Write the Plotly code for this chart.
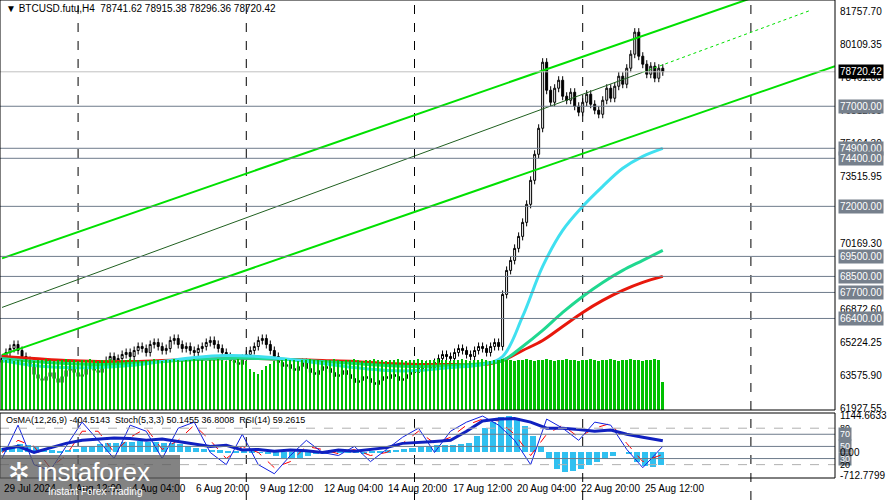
import plotly.graph_objects as go

W, H = 887, 500
FONT = "Liberation Sans"

closes = [64400, 64700, 64900, 65100, 64800, 64500, 64300, 64000, 63600, 63400,
          63300, 63500, 63700, 63400, 63200, 63500, 63800, 64000, 63700, 63500,
          63600, 63900, 64100, 63800, 63700, 64000, 64300, 64500, 64200, 64400,
          64600, 64700, 64500, 64800, 65000, 64900, 64700, 65100, 65200, 65000,
          64800, 64900, 65300, 65400, 65100, 64900, 65000, 64800, 64700, 64900,
          65000, 65200, 65300, 65100, 64900, 64700, 64500, 64300, 64200, 64100,
          64400, 64600, 64800, 65000, 65300, 65400, 65100, 64800, 64500, 64200,
          64000, 64100, 63900, 63800, 64000, 64200, 63900, 63700, 63600, 63800,
          64000, 63900, 63700, 63500, 63600, 63800, 63600, 63400, 63200, 63300,
          63500, 63400, 63200, 63100, 63300, 63500, 63400, 63600, 63500, 63300,
          63400, 63600, 63800, 63700, 63900, 64100, 64000, 63900, 64200, 64400,
          64600, 64500, 64400, 64700, 64900, 64800, 64600, 64500, 64800, 65000,
          64900, 64700, 65000, 65200, 65000, 67600, 68800, 69300, 69900, 70500,
          71200, 72100, 73300, 74600, 75900, 79200, 77800, 77200, 77900, 78300,
          77500, 77300, 77700, 77000, 76700, 77200, 77600, 77100, 76800, 76600,
          77300, 77900, 77400, 78000, 78500, 78100, 78900, 79600, 80700, 79500,
          79100, 78600, 79000, 78400, 78900, 78720]
first_open = 64200
wick = 200

volume = [98, 97, 99, 96, 98, 97, 99, 98, 96, 97, 98, 99, 97, 96, 98, 97, 99, 98, 97, 96,
          98, 97, 99, 98, 96, 97, 98, 99, 97, 96, 98, 97, 99, 98, 97, 96, 98, 97, 99, 98,
          96, 97, 98, 99, 97, 96, 98, 97, 99, 98, 97, 96, 98, 97, 99, 98, 96, 97, 98, 99,
          97, 96, 80, 75, 70, 78, 85, 90, 96, 98, 97, 99, 98, 97, 96, 98, 97, 99, 98, 97,
          96, 98, 97, 99, 98, 96, 97, 98, 99, 97, 96, 98, 97, 99, 98, 97, 96, 98, 97, 99,
          98, 96, 97, 98, 99, 97, 96, 98, 97, 99, 98, 97, 96, 98, 97, 99, 98, 96, 97, 98,
          99, 97, 96, 98, 97, 99, 98, 97, 96, 98, 97, 99, 98, 96, 97, 98, 99, 97, 96, 98,
          97, 99, 98, 97, 96, 98, 97, 99, 98, 96, 97, 98, 99, 97, 96, 98, 97, 99, 98, 97,
          96, 98, 97, 99, 98, 55]

ma_x = [0, 8, 16, 24, 32, 40, 48, 56, 64, 72, 80, 88, 96, 104, 112, 120, 125, 130, 135, 140, 145, 150, 155, 160, 165]
ma_fast = [64300, 64050, 63950, 63950, 64050, 64250, 64450, 64550, 64500, 64350, 64150, 63950, 63800, 63800,
           63950, 64100, 64500, 66500, 69000, 70800, 72000, 73000, 73900, 74500, 74900]
ma_mid = [64400, 64250, 64150, 64100, 64150, 64250, 64350, 64400, 64400, 64350, 64250, 64150, 64050, 64000,
          64050, 64150, 64300, 65000, 65800, 66700, 67500, 68200, 68800, 69300, 69800]
ma_slow = [64500, 64400, 64300, 64250, 64250, 64300, 64350, 64400, 64400, 64350, 64300, 64250, 64150, 64100,
           64100, 64100, 64300, 64800, 65300, 66000, 66700, 67300, 67800, 68200, 68500]

chan_x = [0, 208]
chan_upper = [69400, 83850]
chan_lower = [64580, 79000]
mid_x = [0, 160, 202]
mid_line = [66950, 78700, 81800]

levels = [77000, 74900, 74400, 72000, 69500, 68500, 67700, 66400]
last_price = 78720.42
axis_ticks = [81757.70, 80109.35, 78461.00, 76812.65, 75164.30, 73515.95, 71867.60,
              70169.30, 68521.00, 66872.60, 65224.25, 63575.90, 61927.55]

osma = [150, 200, 250, 220, 180, 120, 60, 40, 80, 120,
        160, 200, 250, 280, 300,
        320, 330, 340, 330, 320, 300, 280, 250, 200, 150,
        100, 80, 60, 50, 40, 30, 20, 10, -40, -120,
        -180, -200, -160, -120, -60,
        -20, 20, 40, 30, -10, -30, 20, 50, 60, 80,
        100, 140, 180, 200, 220, 230, 240, 250,
        300, 500, 750, 950, 1100, 1130, 1050,
        800, 500, 200, -200, -500,
        -600, -580, -500, -400, -300, -200, -100,
        0, -50, -300, -420, -450, -400]
rsi = [45, 50, 40, 48, 55, 60, 62, 64, 63, 60, 62, 58, 55, 50, 52, 44, 45, 42, 44, 43,
       40, 44, 42, 45, 48, 55, 56, 58, 60, 75, 92, 95, 96, 90, 80, 80, 78, 75, 77, 70, 65, 59.26]
stoch_k = [30, 85, 20, 10, 50, 90, 60, 30, 85, 75, 30, 80, 90, 40, 20, 70, 20, 5, 35, 60,
           40, 35, 50, 25, 45, 65, 80, 40, 75, 90, 100, 85, 60, 20, 95, 80, 60, 90, 85, 45, 15, 50.15]
stoch_d = [40, 60, 50, 15, 35, 75, 75, 40, 65, 80, 45, 60, 85, 60, 30, 50, 40, 15, 25, 50,
           45, 38, 45, 35, 40, 55, 75, 55, 65, 85, 95, 92, 70, 35, 70, 85, 65, 80, 88, 55, 25, 36.8]
stoch_levels = [80, 70, 50, 30, 20]

date_pos = [0, 16, 32, 48, 64, 80, 96, 112, 128, 144, 160]
date_text = ["29 Jul 2024", "1 Aug 12:00", "4 Aug 04:00", "6 Aug 20:00", "9 Aug 12:00",
             "12 Aug 04:00", "14 Aug 20:00", "17 Aug 12:00", "20 Aug 04:00", "22 Aug 20:00", "25 Aug 12:00"]
grid_bars = [19, 61, 103, 145, 187]

n = len(closes)
xs = list(range(n))
opens = [first_open] + closes[:-1]
highs = [max(o, c) + wick for o, c in zip(opens, closes)]
lows = [min(o, c) - wick for o, c in zip(opens, closes)]

XR = [-0.5, 208]
XD = [0, 835 / W]
main_dom = [1 - 410 / H, 1]
ind_dom = [1 - 478 / H, 1 - 413 / H]
px = (81757.7 - 61927.55) / 397
y_top = 81757.7 + 11 * px
y_bot = 81757.7 - 399 * px

fig = go.Figure()
fig.add_trace(go.Bar(x=xs, y=volume, marker_color="#00c000", marker_line_width=0,
                     width=0.45, yaxis="y3", xaxis="x", hoverinfo="skip"))
for b in grid_bars:
    fig.add_shape(type="line", x0=b, x1=b, y0=0, y1=1, xref="x", yref="paper",
                  line=dict(color="black", width=1, dash="dash"), layer="below")
for lv in levels:
    fig.add_shape(type="line", x0=XR[0], x1=XR[1], y0=lv, y1=lv, xref="x", yref="y",
                  line=dict(color="#6e7b8b", width=1))
fig.add_shape(type="line", x0=XR[0], x1=XR[1], y0=last_price, y1=last_price, xref="x", yref="y",
              line=dict(color="#c0c0c0", width=1))

fig.add_trace(go.Scatter(x=chan_x, y=chan_upper, mode="lines", line=dict(color="#00e000", width=2), yaxis="y"))
fig.add_trace(go.Scatter(x=chan_x, y=chan_lower, mode="lines", line=dict(color="#00e000", width=2), yaxis="y"))
fig.add_trace(go.Scatter(x=mid_x[:2], y=mid_line[:2], mode="lines", line=dict(color="#206020", width=1), yaxis="y"))
fig.add_trace(go.Scatter(x=mid_x[1:], y=mid_line[1:], mode="lines",
                         line=dict(color="#00e000", width=1, dash="dot"), yaxis="y"))

fig.add_trace(go.Candlestick(x=xs, open=opens, high=highs, low=lows, close=closes,
                             increasing=dict(line=dict(color="black", width=1), fillcolor="white"),
                             decreasing=dict(line=dict(color="black", width=1), fillcolor="black"),
                             whiskerwidth=0, yaxis="y"))
fig.add_trace(go.Scatter(x=ma_x, y=ma_slow, mode="lines", line=dict(color="#e8180c", width=3, shape="spline"), yaxis="y"))
fig.add_trace(go.Scatter(x=ma_x, y=ma_mid, mode="lines", line=dict(color="#20d890", width=3, shape="spline"), yaxis="y"))
fig.add_trace(go.Scatter(x=ma_x, y=ma_fast, mode="lines", line=dict(color="#40e0f0", width=3, shape="spline"), yaxis="y"))

# indicator window
fig.add_trace(go.Bar(x=[2 * i + 0.5 for i in range(len(osma))], y=osma, width=1.5,
                     marker_color="#30c0f0", marker_line_width=0, xaxis="x2", yaxis="y2"))
ix = [4 * i for i in range(len(rsi) - 1)] + [165]
for lv in stoch_levels:
    dash = "dash" if lv in (80, 20) else "solid"
    col = "#b0b0b0" if lv in (80, 20) else "#6e7b8b"
    fig.add_shape(type="line", x0=XR[0], x1=XR[1], y0=lv, y1=lv, xref="x2", yref="y4",
                  line=dict(color=col, width=1, dash=dash))
fig.add_trace(go.Scatter(x=ix, y=stoch_d, mode="lines", line=dict(color="red", width=1, dash="dash"), xaxis="x2", yaxis="y4"))
fig.add_trace(go.Scatter(x=ix, y=stoch_k, mode="lines", line=dict(color="#1020e0", width=1), xaxis="x2", yaxis="y4"))
fig.add_trace(go.Scatter(x=ix, y=rsi, mode="lines", line=dict(color="#1020c0", width=3), xaxis="x2", yaxis="y4"))

anns = []
LX = 838 / W
for t in axis_ticks:
    anns.append(dict(x=LX, y=t, xref="paper", yref="y", text=f"{t:.2f}", showarrow=False,
                     xanchor="left", yanchor="middle", font=dict(size=10, color="black", family=FONT)))
for lv in levels:
    anns.append(dict(x=LX, y=lv, xref="paper", yref="y", text=f"{lv:.2f}", showarrow=False,
                     xanchor="left", yanchor="middle", bgcolor="#76808c", borderpad=1,
                     font=dict(size=10, color="white", family=FONT)))
anns.append(dict(x=LX, y=last_price, xref="paper", yref="y", text=f"{last_price:.2f}", showarrow=False,
                 xanchor="left", yanchor="middle", bgcolor="black", borderpad=1,
                 font=dict(size=10, color="white", family=FONT)))
for lv in stoch_levels:
    anns.append(dict(x=LX, y=lv, xref="paper", yref="y4", text=str(lv), showarrow=False,
                     xanchor="left", yanchor="middle", bgcolor="#76808c" if lv in (70, 50, 30) else None,
                     font=dict(size=9, color="white" if lv in (70, 50, 30) else "black", family=FONT)))
for t, yv in [("1144.6633", 1144.66), ("0.00", 0), ("-712.7799", -712.78)]:
    anns.append(dict(x=LX, y=yv, xref="paper", yref="y2", text=t, showarrow=False,
                     xanchor="left", yanchor="middle", font=dict(size=10, color="black", family=FONT)))
for p, t in zip(date_pos, date_text):
    anns.append(dict(x=p, y=1 - 488 / H, xref="x", yref="paper", text=t, showarrow=False,
                     xanchor="left", yanchor="middle", font=dict(size=10, color="black", family=FONT)))
anns.append(dict(x=4 / W, y=1 - 8 / H, xref="paper", yref="paper",
                 text="▼ BTCUSD.futu,H4  78741.62 78915.38 78296.36 78720.42", showarrow=False,
                 xanchor="left", yanchor="middle", font=dict(size=10, color="black", family=FONT)))
anns.append(dict(x=4 / W, y=1 - 420 / H, xref="paper", yref="paper",
                 text="OsMA(12,26,9) -404.5143  Stoch(5,3,3) 50.1455 36.8008  RSI(14) 59.2615", showarrow=False,
                 xanchor="left", yanchor="middle", font=dict(size=9, color="black", family=FONT)))
anns.append(dict(x=6 / W, y=1 - 472 / H, xref="paper", yref="paper", text="✲ instaforex", showarrow=False,
                 xanchor="left", yanchor="middle", font=dict(size=26, color="white", family=FONT)))
anns.append(dict(x=46 / W, y=1 - 491 / H, xref="paper", yref="paper", text="Instant Forex Trading", showarrow=False,
                 xanchor="left", yanchor="middle", font=dict(size=10, color="white", family=FONT)))

shapes_extra = [
    dict(type="rect", x0=0, x1=835 / W, y0=main_dom[0], y1=1, xref="paper", yref="paper",
         line=dict(color="black", width=1)),
    dict(type="rect", x0=0, x1=835 / W, y0=ind_dom[0], y1=ind_dom[1], xref="paper", yref="paper",
         line=dict(color="black", width=1)),
    dict(type="rect", x0=0, x1=180 / W, y0=0, y1=1 - 455 / H, xref="paper", yref="paper",
         fillcolor="rgba(90,90,90,0.75)", line=dict(width=0)),
]
for s in shapes_extra:
    fig.add_shape(**s)

fig.update_layout(
    width=W, height=H, margin=dict(l=0, r=0, t=0, b=0),
    paper_bgcolor="white", plot_bgcolor="white", showlegend=False,
    bargap=0, barmode="overlay", annotations=anns,
    xaxis=dict(domain=XD, range=XR, showgrid=False, showticklabels=False, zeroline=False,
               rangeslider=dict(visible=False), anchor="y"),
    xaxis2=dict(domain=XD, range=XR, showgrid=False, showticklabels=False, zeroline=False,
                anchor="y2", matches="x"),
    yaxis=dict(domain=main_dom, range=[y_bot, y_top], showgrid=False, showticklabels=False,
               zeroline=False, anchor="x"),
    yaxis3=dict(domain=main_dom, range=[0, 800], overlaying="y", showticklabels=False,
                showgrid=False, zeroline=False, anchor="x"),
    yaxis2=dict(domain=ind_dom, range=[-790, 1215], showgrid=False, showticklabels=False,
                zeroline=False, anchor="x2"),
    yaxis4=dict(domain=ind_dom, range=[-2, 105], overlaying="y2", showgrid=False,
                showticklabels=False, zeroline=False, anchor="x2"),
)
fig.write_html("out.html", config={"displayModeBar": False},
               post_script="document.body.style.margin='0';")
